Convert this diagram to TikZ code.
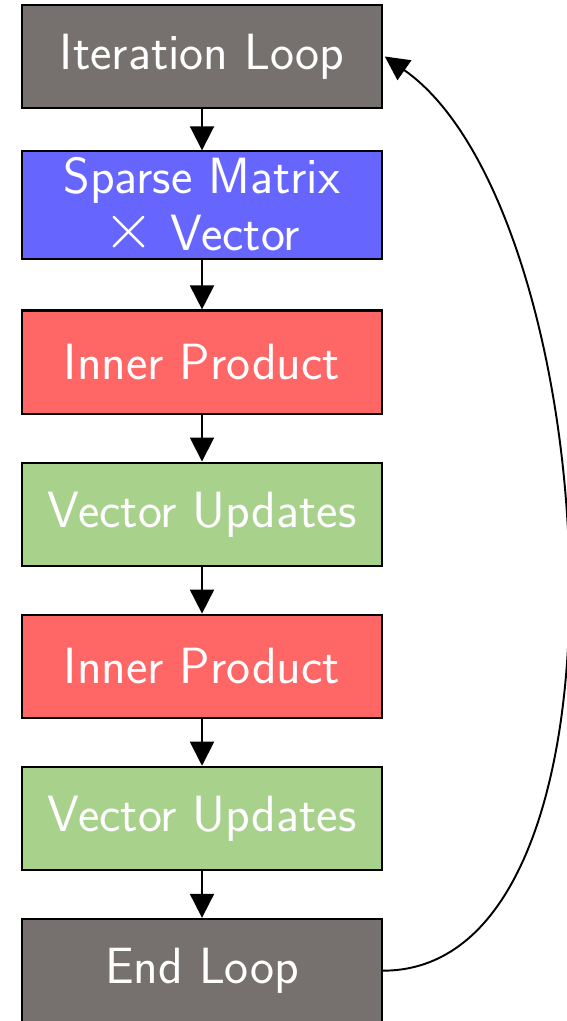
\documentclass[tikz,border=0pt]{standalone}
\usepackage{tikz}
\usetikzlibrary{arrows.meta,positioning}

\definecolor{loopgray}{RGB}{118,113,111}
\definecolor{spmvblue}{RGB}{102,102,255}
\definecolor{dotred}{RGB}{255,102,102}
\definecolor{axpygreen}{RGB}{168,209,140}

\tikzset{
  stage/.style={draw=black,line width=1.2pt,minimum width=7.2cm,minimum height=2.07cm,
    text=white,align=center,font=\sffamily\fontsize{29}{32.5}\selectfont,inner xsep=2pt,inner ysep=0pt},
  flow/.style={-{Triangle[length=4.8mm,width=4.8mm]},line width=1.1pt}
}

\begin{document}
\begin{tikzpicture}[node distance=0.93cm]
\useasboundingbox (0,0) rectangle (11.32,-20.42);
\node[stage,fill=loopgray] (1) at (4.04,-1.13) {Iteration Loop};
\node[stage,fill=spmvblue,minimum height=2.16cm] (2) [below =0.82cm of 1]
{Sparse Matrix\\\raisebox{0.1ex}{\scalebox{1.5}{$\times$}} Vector};
\node[stage,fill=dotred] (3) [below =0.98cm of 2] {Inner Product};
\node[stage,fill=axpygreen] (4) [below =of 3] {Vector Updates};
\node[stage,fill=dotred] (5) [below =of 4] {Inner Product};
\node[stage,fill=axpygreen] (6) [below =of 5] {Vector Updates};
\node[stage,fill=loopgray] (7) [below =of 6] {End Loop};
\draw[flow] (1) -- (2);
\draw[flow] (2) -- (3);
\draw[flow] (3) -- (4);
\draw[flow] (4) -- (5);
\draw[flow] (5) -- (6);
\draw[flow] (6) -- (7);
\draw[flow] (7.east) to [out=0,in=-35,looseness=0.75] ([xshift=1pt]1.east);
\end{tikzpicture}
\end{document}
